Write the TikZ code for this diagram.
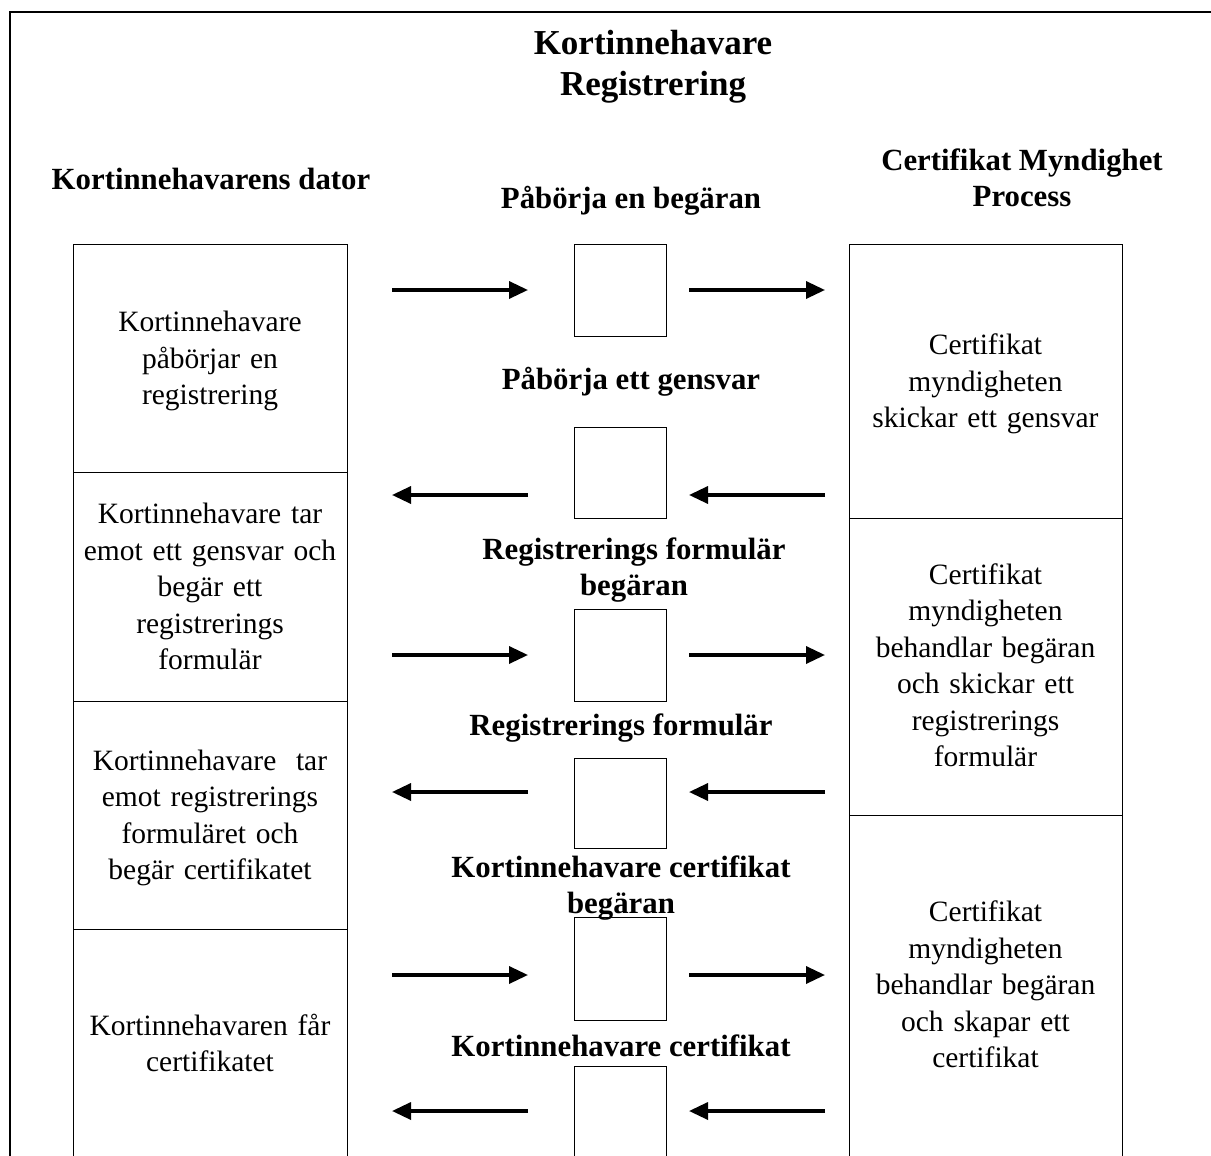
\documentclass[tikz,border=0pt]{standalone}
\usepackage{fontspec}
\setmainfont{Liberation Serif}
\usetikzlibrary{arrows.meta}
\tikzset{
  frameline/.style={line width=2.6pt},
  cell/.style={draw, line width=1pt, inner sep=0pt},
  celltext/.style={inner sep=0pt, align=center, text width=262pt,
     font=\fontsize{29.5}{36.5}\selectfont},
  midbox/.style={draw, line width=1pt, inner sep=0pt, minimum width=92pt},
  hdr/.style={align=center, inner sep=0pt, font=\fontsize{30.8}{36}\selectfont\bfseries},
  ttl/.style={align=center, inner sep=0pt, font=\fontsize{35}{41}\selectfont\bfseries},
  arr/.style={line width=3.4pt, -{Triangle[length=19pt,width=17pt]}},
}
\begin{document}
\begin{tikzpicture}[x=1pt,y=-1pt]
\useasboundingbox (0,0) rectangle (1211,1156);
\clip (0,0) rectangle (1211,1156);
\draw[frameline] (10,1170) -- (10,12) -- (1220,12);

% titles
\node[ttl] (title) at (653,67) {Kortinnehavare\\Registrering};
\node[hdr] (hl) at (211,179) {Kortinnehavarens dator};
\node[hdr] (hr) at (1022,178) {Certifikat Myndighet\\Process};

% left column
\node[cell, minimum width=274pt, minimum height=228pt] (L1) at (210,358) {};
\node[cell, minimum width=274pt, minimum height=229pt] (L2) at (210,586.5) {};
\node[cell, minimum width=274pt, minimum height=228pt] (L3) at (210,815) {};
\node[cell, minimum width=274pt, minimum height=234pt] (L4) at (210,1046) {};
\node[celltext] (L1t) at ([yshift=-3pt]L1.center) {Kortinnehavare\\påbörjar en\\registrering};
\node[celltext] (L2t) at ([yshift=0pt]L2.center) {Kortinnehavare tar\\emot ett gensvar och\\begär ett\\registrerings\\formulär};
\node[celltext] (L3t) at ([yshift=-3pt]L3.center) {Kortinnehavare~ tar\\emot registrerings\\formuläret och\\begär certifikatet};
\node[celltext] (L4t) at ([yshift=3pt]L4.center) {Kortinnehavaren får\\certifikatet};

% right column
\node[cell, minimum width=273pt, minimum height=274pt] (R1) at (985.5,381) {};
\node[cell, minimum width=273pt, minimum height=297pt] (R2) at (985.5,666.5) {};
\node[cell, minimum width=273pt, minimum height=345pt] (R3) at (985.5,987.5) {};
\node[celltext] (R1t) at ([yshift=-3pt]R1.center) {Certifikat\\myndigheten\\skickar ett gensvar};
\node[celltext] (R2t) at ([yshift=1pt]R2.center) {Certifikat\\myndigheten\\behandlar begäran\\och skickar ett\\registrerings\\formulär};
\node[celltext] (R3t) at ([yshift=3pt]R3.center) {Certifikat\\myndigheten\\behandlar begäran\\och skapar ett\\certifikat};

% middle boxes
\node[midbox, minimum height=92pt] (M1) at (620,290) {};
\node[midbox, minimum height=91pt] (M2) at (620,472.5) {};
\node[midbox, minimum height=92pt] (M3) at (620,655) {};
\node[midbox, minimum height=90pt] (M4) at (620,803) {};
\node[midbox, minimum height=103pt] (M5) at (620,968.5) {};
\node[midbox, minimum height=100pt] (M6) at (620,1116) {};

% middle labels
\node[hdr] (t1) at (631,201) {Påbörja en begäran};
\node[hdr] (t2) at (631,382) {Påbörja ett gensvar};
\node[hdr] (t3) at (634,570) {Registrerings formulär\\begäran};
\node[hdr] (t4) at (621,728) {Registrerings formulär};
\node[hdr] (t5) at (621,888) {Kortinnehavare certifikat\\begäran};
\node[hdr] (t6) at (621,1046) {Kortinnehavare certifikat};

% arrow end points
\foreach \n/\y in {1/290,2/495,3/655,4/792,5/975,6/1111}{
  \coordinate (a\n) at (392,\y);
  \coordinate (b\n) at (528,\y);
  \coordinate (c\n) at (689,\y);
  \coordinate (d\n) at (825,\y);
}
% rightward rows
\foreach \n in {1,3,5}{
  \draw[arr] (a\n) -- (b\n);
  \draw[arr] (c\n) -- (d\n);
}
% leftward rows
\foreach \n in {2,4,6}{
  \draw[arr] (b\n) -- (a\n);
  \draw[arr] (d\n) -- (c\n);
}
\end{tikzpicture}
\end{document}
